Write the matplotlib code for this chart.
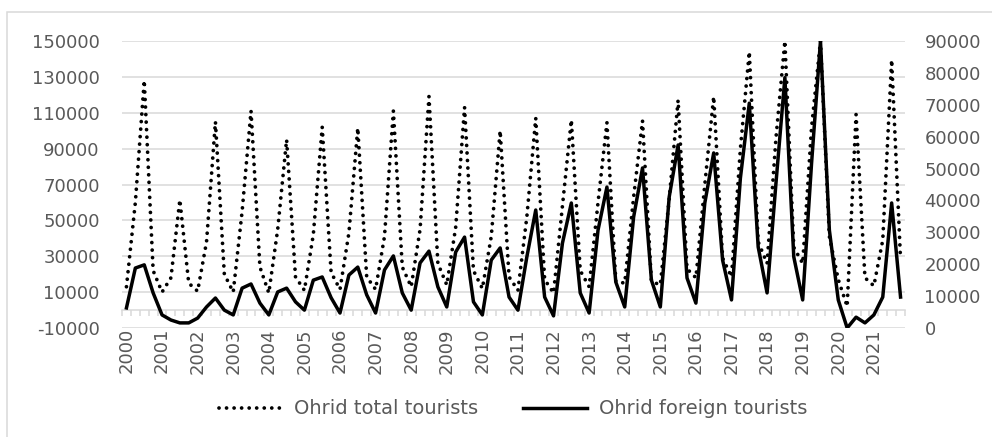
import numpy as np
import matplotlib
matplotlib.use("Agg")
import matplotlib.pyplot as plt
from matplotlib.patches import Rectangle
from matplotlib.ticker import FixedLocator

plt.rcParams['font.family'] = ['DejaVu Sans']

years = [str(y) for y in range(2000, 2022)]

# quarterly values, Q1..Q4 per year
total_tourists = [
    13000, 60000, 128000, 22000,   # 2000
    10000, 18000, 61500, 15000,    # 2001
    10500, 38000, 105000, 20000,   # 2002
    10000, 55000, 111000, 24000,   # 2003
    9500, 45000, 95000, 18500,     # 2004
    11000, 42000, 102000, 21000,   # 2005
    11500, 43000, 101500, 18500,   # 2006
    11500, 41000, 111000, 24000,   # 2007
    13000, 45000, 119000, 26000,   # 2008
    14000, 46000, 113000, 22000,   # 2009
    12000, 41000, 100000, 18500,   # 2010
    11000, 52000, 107000, 17000,   # 2011
    9500, 58000, 106000, 22000,    # 2012
    13000, 60000, 104500, 16000,   # 2013
    15000, 63000, 105500, 16000,   # 2014
    14000, 62000, 117000, 23000,   # 2015
    18000, 70000, 119000, 29000,   # 2016
    18500, 90000, 144000, 38000,   # 2017
    26000, 96000, 150000, 35000,   # 2018
    26000, 102000, 150000, 41000,  # 2019
    17000, 2000, 109000, 18000,    # 2020
    13500, 39000, 139500, 28000,   # 2021
]

foreign_tourists = [
    6300, 18800, 19800, 11000,     # 2000
    4100, 2500, 1600, 1600,        # 2001
    3100, 6600, 9400, 5600,        # 2002
    4100, 12500, 13800, 7800,      # 2003
    4100, 11300, 12500, 8200,      # 2004
    5600, 15000, 16000, 9500,      # 2005
    4700, 16600, 19100, 10400,     # 2006
    4700, 18200, 22600, 11000,     # 2007
    5600, 20400, 24100, 12900,     # 2008
    6600, 23800, 28500, 8200,      # 2009
    4100, 21300, 25100, 9700,      # 2010
    5600, 22300, 37000, 9700,      # 2011
    3800, 26600, 39200, 11000,     # 2012
    4700, 30700, 44200, 14400,     # 2013
    6600, 34800, 50200, 15000,     # 2014
    6600, 41100, 57400, 15700,     # 2015
    7800, 39200, 54900, 21300,     # 2016
    8800, 47000, 70500, 25400,     # 2017
    11000, 45500, 78500, 22300,    # 2018
    8800, 51700, 90000, 30700,     # 2019
    8800, 0, 3400, 1600,           # 2020
    4100, 9700, 39200, 9700,       # 2021
]

left_ticks = list(range(-10000, 150001, 20000))
right_ticks = list(range(0, 90001, 10000))

TEXT = '#595959'
GRID = '#d9d9d9'

W, H = 992, 437
fig = plt.figure(figsize=(W / 100, H / 100), dpi=100)

# chart area border
fig.patches.append(Rectangle((7 / W, -0.1), 1.2, (H - 12) / H + 0.1,
                             transform=fig.transFigure, fill=False,
                             edgecolor=GRID, linewidth=1.1))

ax = fig.add_axes([122 / W, 1 - 328 / H, (905 - 122) / W, (328 - 41) / H])
x = np.arange(len(total_tourists))

ax.plot(x, total_tourists, color='black', linewidth=2.7,
        linestyle=(0, (0.01, 2.0)), dash_capstyle='round',
        label='Ohrid total tourists', zorder=3)

ax.set_xlim(-0.5, len(total_tourists) - 0.5)
ax.set_ylim(-10000, 150000)
ax.set_yticks(left_ticks)
ax.set_yticklabels([str(v) for v in left_ticks])
ax.grid(axis='y', color=GRID, linewidth=1.1)
ax.set_axisbelow(True)

for s in ['left', 'right', 'top']:
    ax.spines[s].set_visible(False)
ax.spines['bottom'].set_position(('data', 0))
ax.spines['bottom'].set_color(GRID)
ax.spines['bottom'].set_linewidth(1.1)

ax.set_xticks(x[::4])
ax.set_xticklabels(years, rotation=90, ha='center', va='top')
ax.xaxis.set_minor_locator(FixedLocator(np.arange(-0.5, len(x), 1)))
ax.tick_params(axis='x', which='major', length=0, pad=13, labelsize=13, labelcolor=TEXT)
ax.tick_params(axis='x', which='minor', length=4.3, width=1.1, color=GRID, direction='out')
ax.tick_params(axis='y', length=0, pad=16, labelsize=13, labelcolor=TEXT)

ax2 = ax.twinx()
ax2.plot(x, foreign_tourists, color='black', linewidth=2.5,
         label='Ohrid foreign tourists', zorder=3)
ax2.set_ylim(0, 90000)
ax2.set_yticks(right_ticks)
ax2.set_yticklabels([str(v) for v in right_ticks])
ax2.tick_params(axis='y', length=0, pad=14, labelsize=13, labelcolor=TEXT)
for s in ax2.spines.values():
    s.set_visible(False)

h1, l1 = ax.get_legend_handles_labels()
h2, l2 = ax2.get_legend_handles_labels()
leg = fig.legend(h1 + h2, l1 + l2, loc='center', ncol=2,
                 bbox_to_anchor=(513 / W, 1 - 409 / H), frameon=False,
                 fontsize=14, handlelength=3.3, handletextpad=0.6,
                 columnspacing=2.3)
for t in leg.get_texts():
    t.set_color(TEXT)

fig.savefig('out.png', dpi=100)
